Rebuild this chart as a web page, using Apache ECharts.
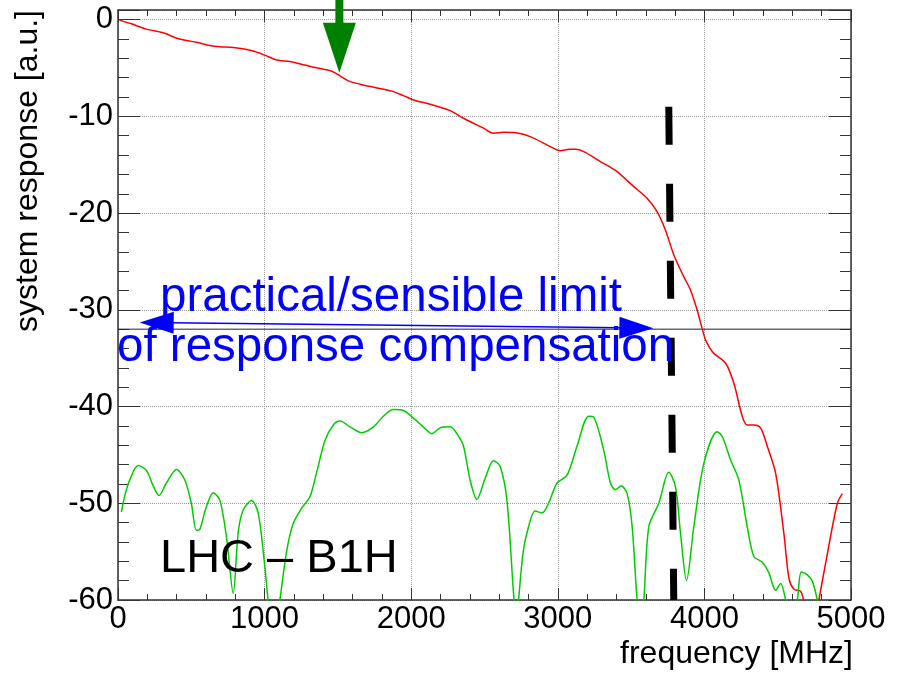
<!DOCTYPE html>
<html>
<head>
<meta charset="utf-8">
<script src="https://cdn.jsdelivr.net/npm/echarts@6/dist/echarts.min.js"></script>
<style>
  html, body { margin: 0; padding: 0; background: #fff; }
  #main { width: 897px; height: 673px; }
</style>
</head>
<body>
<div id="main"></div>
<script>
// system response (red), [frequency MHz, response a.u.]
const responseCurve = [
  [10, -0.05], [91, -0.43], [194, -0.98], [319, -1.4], [387, -1.85], [467, -2.16],
  [535, -2.33], [626, -2.68], [695, -2.81], [786, -2.88], [922, -3.23], [1002, -3.67],
  [1082, -4.16], [1173, -4.33], [1264, -4.67], [1355, -4.98], [1458, -5.33], [1514, -5.81],
  [1571, -6.33], [1651, -6.67], [1742, -6.98], [1868, -7.39], [1947, -7.85], [2027, -8.36],
  [2129, -8.74], [2266, -9.4], [2357, -10.19], [2493, -11.22], [2561, -11.74], [2630, -11.65],
  [2698, -11.67], [2812, -12.09], [2949, -13.12], [3017, -13.54], [3080, -13.4], [3120, -13.4],
  [3177, -13.64], [3291, -14.67], [3404, -15.71], [3518, -17.26], [3609, -18.46], [3677, -19.84],
  [3734, -21.74], [3791, -24.3], [3859, -26.57], [3905, -27.94], [3950, -30.0], [4007, -33.1],
  [4040, -34.0], [4064, -34.5], [4144, -35.5], [4201, -37.6], [4258, -41.0], [4292, -41.9],
  [4337, -41.9], [4383, -42.2], [4429, -44.1], [4486, -46.9], [4542, -53.1], [4577, -57.8],
  [4611, -58.9], [4656, -59.1], [4679, -60.2], [4720, -63], [4760, -62], [4781, -60],
  [4839, -55.2], [4907, -50], [4941, -49.0]
];

// residual after compensation (green)
const residualCurve = [
  [23, -50.9], [50, -49], [80, -47.6], [137, -46.1], [194, -46.6], [240, -48.2], [280, -49.2],
  [330, -47.9], [399, -46.5], [456, -47.6], [500, -50], [535, -52.8], [558, -52.7], [600, -50.5],
  [649, -48.9], [695, -49.7], [740, -53.5], [786, -59.3], [820, -53], [854, -50.7], [911, -49.7],
  [956, -51.0], [1002, -56.6], [1025, -60.2], [1060, -64], [1104, -60], [1150, -55], [1195, -52.1],
  [1253, -50.5], [1310, -49.3], [1360, -46.5], [1412, -43.5], [1469, -41.9], [1514, -41.5],
  [1583, -42.1], [1663, -42.7], [1742, -42.1], [1810, -41.0], [1878, -40.3], [1947, -40.4],
  [2015, -41.2], [2083, -42.1], [2141, -42.8], [2197, -42.2], [2266, -42.1], [2320, -43],
  [2357, -44.1], [2402, -47.6], [2448, -49.6], [2505, -47.4], [2561, -45.6], [2607, -46.2],
  [2653, -49.7], [2698, -59.3], [2715, -62], [2732, -60], [2760, -55.5], [2789, -53.1],
  [2846, -50.8], [2892, -51.0], [2937, -50.0], [2995, -47.9], [3063, -47.1], [3131, -44.1],
  [3210, -41.0], [3245, -41.1], [3313, -44.5], [3359, -47.9], [3393, -48.6], [3432, -48.2],
  [3473, -49.0], [3507, -52.4], [3541, -60], [3564, -63], [3587, -60], [3621, -52.4],
  [3689, -50.0], [3757, -46.8], [3803, -48.3], [3837, -53.1], [3878, -58.0], [3928, -52.4],
  [3996, -45.9], [4087, -42.6], [4122, -43.1], [4178, -45.5], [4235, -47.6], [4292, -52.4],
  [4337, -55.5], [4395, -56.1], [4440, -57.2], [4486, -59.0], [4520, -58.3], [4554, -60],
  [4590, -63], [4634, -60], [4661, -57.1], [4702, -57.4], [4737, -58.1], [4770, -60], [4790, -62]
];

// annotations (data coordinates)
const limitLevel = [[0, -32], [5000, -32]];
const cutoffLine = [[3757, -9], [3791, -60]];
const markArrow = [[1510, 2.3, 1510, -5.5]];
const limitArrow = [[148, -31.3, 3652, -31.9]];

const xTicks = { min: 0, max: 5000, interval: 1000 };
const yTicks = { min: -60, max: 1, interval: 10 };

const FONT = 'Liberation Sans, Arial, Helvetica, sans-serif';
const frameColor = '#333';

function arrowRender(color, width, headW, headL, both) {
  return function (params, api) {
    const a = api.coord([api.value(0), api.value(1)]);
    const b = api.coord([api.value(2), api.value(3)]);
    const dx = b[0] - a[0], dy = b[1] - a[1];
    const len = Math.hypot(dx, dy);
    const ux = dx / len, uy = dy / len, nx = -uy, ny = ux;
    const head = (tip, sx, sy) => ({
      type: 'polygon',
      shape: { points: [
        tip,
        [tip[0] - sx * headL + nx * headW / 2, tip[1] - sy * headL + ny * headW / 2],
        [tip[0] - sx * headL - nx * headW / 2, tip[1] - sy * headL - ny * headW / 2]
      ] },
      style: { fill: color }
    });
    const s = both ? [a[0] + ux * headL * 0.9, a[1] + uy * headL * 0.9] : a;
    const e = [b[0] - ux * headL * 0.9, b[1] - uy * headL * 0.9];
    const children = [
      { type: 'line', shape: { x1: s[0], y1: s[1], x2: e[0], y2: e[1] },
        style: { stroke: color, lineWidth: width } },
      head(b, ux, uy)
    ];
    if (both) children.push(head(a, -ux, -uy));
    return { type: 'group', children: children };
  };
}

const chart = echarts.init(document.getElementById('main'));

const xBase = {
  type: 'value', min: xTicks.min, max: xTicks.max, interval: xTicks.interval,
  axisLine: { show: true, onZero: false, lineStyle: { color: frameColor, width: 1.5 } },
  axisTick: { show: true, inside: true, length: 12, lineStyle: { color: frameColor } },
  minorTick: { show: true, splitNumber: 5, length: 6, lineStyle: { color: frameColor } }
};
const yBase = {
  type: 'value', min: yTicks.min, max: yTicks.max, interval: yTicks.interval,
  axisLine: { show: true, onZero: false, lineStyle: { color: frameColor, width: 1.5 } },
  axisTick: { show: true, inside: true, length: 22, lineStyle: { color: frameColor } },
  minorTick: { show: true, splitNumber: 5, length: 11, lineStyle: { color: frameColor } }
};

const option = {
  animation: false,
  backgroundColor: '#fff',
  grid: { left: 118, right: 46, top: 10, bottom: 73, containLabel: false, outerBoundsMode: 'none' },
  xAxis: [
    Object.assign({}, xBase, {
      position: 'bottom',
      axisLabel: { fontSize: 31, color: '#000', fontFamily: FONT, margin: 4, formatter: v => String(v) },
      splitLine: { show: true, lineStyle: { color: '#999', type: 'dotted', width: 1 } }
    }),
    Object.assign({}, xBase, {
      position: 'top',
      axisLabel: { show: false },
      splitLine: { show: false }
    })
  ],
  yAxis: [
    Object.assign({}, yBase, {
      position: 'left',
      axisLabel: { fontSize: 31, color: '#000', fontFamily: FONT, margin: 5, showMaxLabel: false,
        padding: [6, 0, 0, 0], formatter: v => String(v) },
      splitLine: { show: true, lineStyle: { color: '#999', type: 'dotted', width: 1 } }
    }),
    Object.assign({}, yBase, {
      position: 'right',
      axisLabel: { show: false },
      splitLine: { show: false }
    })
  ],
  series: [
    {
      name: 'limit level', type: 'line', data: limitLevel, symbol: 'none', silent: true,
      lineStyle: { color: '#222', width: 1 }, z: 3
    },
    {
      name: 'system response', type: 'line', data: responseCurve, symbol: 'none', smooth: 0.3,
      lineStyle: { color: '#ff0000', width: 1.5 }, z: 4
    },
    {
      name: 'residual', type: 'line', data: residualCurve, symbol: 'none', smooth: 0.3,
      lineStyle: { color: '#00cc00', width: 1.5 }, z: 4
    },
    {
      name: 'cutoff', type: 'line', data: cutoffLine, symbol: 'none', silent: true,
      lineStyle: { color: '#000', width: 7, type: [38, 39], cap: 'butt' }, z: 5
    },
    {
      name: 'mark', type: 'custom', data: markArrow, clip: false, silent: true, z: 6,
      encode: { x: [0, 2], y: [1, 3] },
      renderItem: arrowRender('#008000', 8, 33, 50, false)
    },
    {
      name: 'limit', type: 'custom', data: limitArrow, clip: false, silent: true, z: 6,
      encode: { x: [0, 2], y: [1, 3] },
      renderItem: arrowRender('#0000ff', 1.5, 22, 34, true)
    }
  ],
  graphic: [
    { type: 'text', x: 44, y: 10, rotation: Math.PI / 2, z: 10,
      style: { text: 'system response [a.u.]', font: '32px ' + FONT, fill: '#000', align: 'right', verticalAlign: 'bottom' } },
    { type: 'text', x: 853, y: 670, z: 10,
      style: { text: 'frequency [MHz]', font: '32px ' + FONT, fill: '#000', align: 'right', verticalAlign: 'bottom' } },
    { type: 'text', x: 160, y: 583, z: 10,
      style: { text: 'LHC \u2013 B1H', font: '47px ' + FONT, fill: '#000', align: 'left', verticalAlign: 'bottom' } },
    { type: 'text', x: 160, y: 322, z: 10,
      style: { text: 'practical/sensible limit', font: '47.5px ' + FONT, fill: '#0000ff', align: 'left', verticalAlign: 'bottom' } },
    { type: 'text', x: 117, y: 372, z: 10,
      style: { text: 'of response compensation', font: '47.5px ' + FONT, fill: '#0000ff', align: 'left', verticalAlign: 'bottom' } }
  ]
};

chart.setOption(option);
</script>
</body>
</html>
